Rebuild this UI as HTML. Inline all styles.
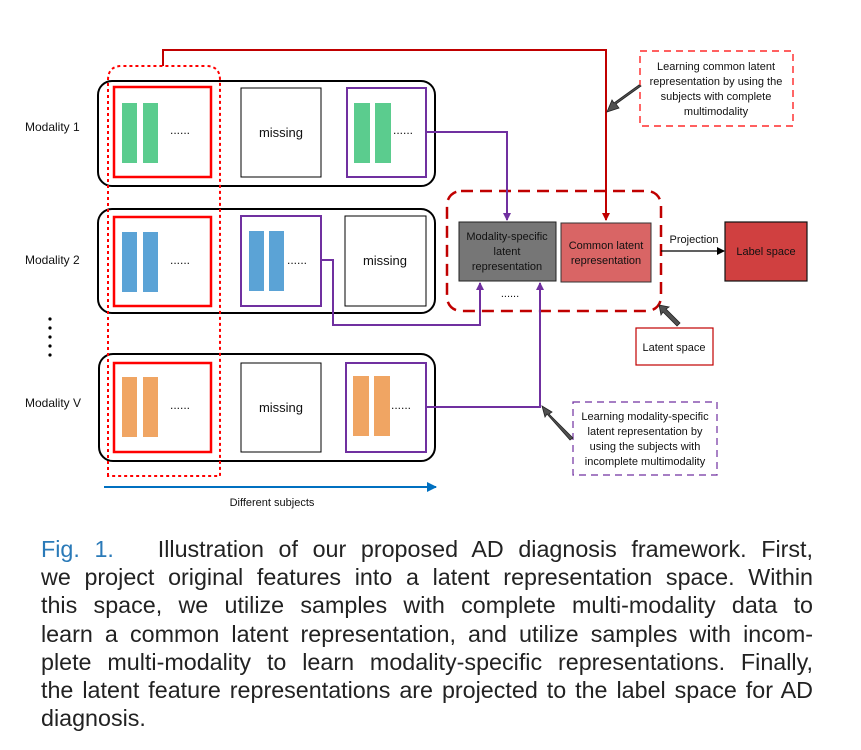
<!DOCTYPE html>
<html><head><meta charset="utf-8"><style>
body{margin:0;background:#fff;width:861px;height:750px;overflow:hidden;position:relative}
svg{position:absolute;left:0;top:0}
svg text{font-family:"Liberation Sans",sans-serif;fill:#111}
.cap{position:absolute;left:41px;top:535px;width:772px;font-family:"Liberation Sans",sans-serif;font-size:23.3px;line-height:28.2px;color:#222}
.cap div{text-align:justify;text-align-last:justify;white-space:nowrap;height:28.2px}
.cap div.l{text-align-last:left}
</style></head><body>
<svg width="861" height="520" viewBox="0 0 861 520">
<defs>
<marker id="ar" markerWidth="8" markerHeight="8" refX="7" refY="4" orient="auto" markerUnits="userSpaceOnUse"><path d="M0,0L8,4L0,8z" fill="#c00000"/></marker>
<marker id="ap" markerWidth="8" markerHeight="8" refX="7" refY="4" orient="auto" markerUnits="userSpaceOnUse"><path d="M0,0L8,4L0,8z" fill="#7030a0"/></marker>
<marker id="ab" markerWidth="10" markerHeight="10" refX="9" refY="5" orient="auto" markerUnits="userSpaceOnUse"><path d="M0,0L10,5L0,10z" fill="#0070c0"/></marker>
<marker id="ak" markerWidth="8" markerHeight="8" refX="7" refY="4" orient="auto" markerUnits="userSpaceOnUse"><path d="M0,0L8,4L0,8z" fill="#000"/></marker>
</defs>
<g font-size="12">
<text x="25" y="131">Modality 1</text>
<text x="25" y="264">Modality 2</text>
<text x="25" y="407">Modality V</text>
</g>
<g fill="#000"><circle cx="50" cy="319" r="1.6"/><circle cx="50" cy="328" r="1.6"/><circle cx="50" cy="337" r="1.6"/><circle cx="50" cy="346" r="1.6"/><circle cx="50" cy="355" r="1.6"/></g>
<g fill="none" stroke="#000" stroke-width="2">
<rect x="98" y="81" width="337" height="105" rx="14"/>
<rect x="98" y="209" width="337" height="104" rx="14"/>
<rect x="99" y="354" width="336" height="107" rx="14"/>
</g>
<g fill="none" stroke="#ff0000" stroke-width="2.5">
<rect x="114" y="87" width="97" height="90"/>
<rect x="114" y="217" width="97" height="89"/>
<rect x="114" y="363" width="97" height="89"/>
</g>
<g fill="none" stroke="#000" stroke-width="1">
<rect x="241" y="88" width="80" height="89"/>
<rect x="345" y="216" width="81" height="90"/>
<rect x="241" y="363" width="80" height="89"/>
</g>
<g fill="none" stroke="#7030a0" stroke-width="2">
<rect x="347" y="88" width="79" height="89"/>
<rect x="241" y="216" width="80" height="90"/>
<rect x="346" y="363" width="80" height="89"/>
</g>
<g fill="#5bcc8e"><rect x="122" y="103" width="15" height="60"/><rect x="143" y="103" width="15" height="60"/><rect x="354" y="103" width="16" height="60"/><rect x="375" y="103" width="16" height="60"/></g>
<g fill="#5ba3d6"><rect x="122" y="232" width="15" height="60"/><rect x="143" y="232" width="15" height="60"/><rect x="249" y="231" width="15" height="60"/><rect x="269" y="231" width="15" height="60"/></g>
<g fill="#f0a563"><rect x="122" y="377" width="15" height="60"/><rect x="143" y="377" width="15" height="60"/><rect x="353" y="376" width="16" height="60"/><rect x="374" y="376" width="16" height="60"/></g>
<g font-size="13" text-anchor="middle">
<text x="281" y="137">missing</text><text x="385" y="265">missing</text><text x="281" y="412">missing</text>
</g>
<g font-size="12"><text x="170" y="134">......</text><text x="393" y="134">......</text><text x="170" y="264">......</text><text x="287" y="264">......</text><text x="170" y="409">......</text><text x="391" y="409">......</text></g>
<path d="M108,476 V80 Q108,66 122,66 H206 Q220,66 220,80 V476 Z" fill="none" stroke="#ff0000" stroke-width="2" stroke-dasharray="3,3"/>
<path d="M163,66 V50 H606 V220" fill="none" stroke="#c00000" stroke-width="2" marker-end="url(#ar)"/>
<rect x="447" y="191" width="214" height="120" rx="14" fill="none" stroke="#c00000" stroke-width="2.5" stroke-dasharray="12,7"/>
<rect x="459" y="222" width="97" height="59" fill="#767676" stroke="#222" stroke-width="1"/>
<rect x="561" y="223" width="90" height="59" fill="#d96565" stroke="#333" stroke-width="1"/>
<rect x="725" y="222" width="82" height="59" fill="#d04040" stroke="#111" stroke-width="1.2"/>
<g font-size="11" text-anchor="middle">
<text x="507" y="240">Modality-specific</text><text x="507" y="255">latent</text><text x="507" y="270">representation</text>
<text x="606" y="249">Common latent</text><text x="606" y="264">representation</text>
<text x="766" y="255">Label space</text>
<text x="694" y="243">Projection</text>
<text x="510" y="297">......</text>
</g>
<line x1="661" y1="251" x2="724" y2="251" stroke="#000" stroke-width="1.2" marker-end="url(#ak)"/>
<g fill="none" stroke="#7030a0" stroke-width="2">
<path d="M426,132 H507 V220" marker-end="url(#ap)"/>
<path d="M322,260 H333 V325 H480 V283" marker-end="url(#ap)"/>
<path d="M426,407 H540 V283" marker-end="url(#ap)"/>
</g>
<rect x="640" y="51" width="153" height="75" fill="#fff" stroke="#ff0000" stroke-width="1.2" stroke-dasharray="7,5"/>
<g font-size="11" text-anchor="middle"><text x="716" y="70">Learning common latent</text><text x="716" y="85">representation by using the</text><text x="716" y="100">subjects with complete</text><text x="716" y="115">multimodality</text></g>
<rect x="573" y="402" width="144" height="73" fill="#fff" stroke="#7030a0" stroke-width="1.2" stroke-dasharray="7,5"/>
<g font-size="11" text-anchor="middle"><text x="645" y="420">Learning modality-specific</text><text x="645" y="435">latent representation by</text><text x="645" y="450">using the subjects with</text><text x="645" y="465">incomplete multimodality</text></g>
<rect x="636" y="328" width="77" height="37" fill="#fff" stroke="#c00000" stroke-width="1.2"/>
<text x="674" y="351" font-size="11" text-anchor="middle">Latent space</text>
<g fill="#505050" stroke="#222" stroke-width="0.8">
<path d="M641,86 L616,104 L619,108 L607,112 L612,100 L614,103 L639,85 Z"/>
<path d="M677,326 L663,312 L661,315 L659,305 L669,307 L666,309 L680,323 Z"/>
<path d="M573,438 L549,414 L552,412 L542,406 L545,417 L547,414 L570,440 Z"/>
</g>
<line x1="104" y1="487" x2="436" y2="487" stroke="#0070c0" stroke-width="2" marker-end="url(#ab)"/>
<text x="272" y="506" font-size="11" text-anchor="middle">Different subjects</text>
</svg>
<div class="cap">
<div><span style="color:#2a7ab8">Fig.&nbsp;1.</span>&nbsp;&nbsp; Illustration of our proposed AD diagnosis framework. First,</div>
<div>we project original features into a latent representation space. Within</div>
<div>this space, we utilize samples with complete multi-modality data to</div>
<div>learn a common latent representation, and utilize samples with incom-</div>
<div>plete multi-modality to learn modality-specific representations. Finally,</div>
<div>the latent feature representations are projected to the label space for AD</div>
<div class="l">diagnosis.</div>
</div>
</body></html>
